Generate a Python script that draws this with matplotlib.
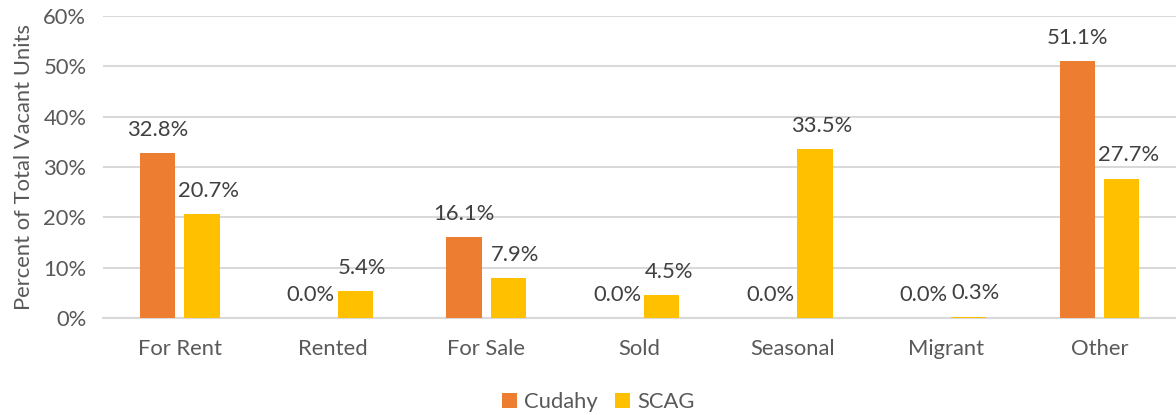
import matplotlib
matplotlib.use("Agg")
import matplotlib.pyplot as plt
import numpy as np

categories = ["For Rent", "Rented", "For Sale", "Sold", "Seasonal", "Migrant", "Other"]
cudahy = [32.8, 0.0, 16.1, 0.0, 0.0, 0.0, 51.1]
scag = [20.7, 5.4, 7.9, 4.5, 33.5, 0.3, 27.7]
yticks = [0, 10, 20, 30, 40, 50, 60]

plt.rcParams['font.family'] = ['Lato', 'DejaVu Sans']

fig = plt.figure(figsize=(11.76, 4.15), dpi=100)
ax = fig.add_axes([0.0876, 0.2337, 0.9124, 0.7277])

x = np.arange(len(categories))
w = 0.23
off = 0.145
c_or = "#ED7D31"
c_ye = "#FFC000"
ax.bar(x - off, cudahy, w, color=c_or, label="Cudahy", zorder=3)
ax.bar(x + off, scag, w, color=c_ye, label="SCAG", zorder=3)

lab_col = "#404040"
fs = 15.8
for xi, v in zip(x, cudahy):
    ax.annotate(f"{v:.1f}%", (xi - off, v), xytext=(0, 9.5), textcoords="offset points",
                ha="center", va="bottom", fontsize=fs, color=lab_col)
for xi, v in zip(x, scag):
    ax.annotate(f"{v:.1f}%", (xi + off, v), xytext=(5, 9.5), textcoords="offset points",
                ha="center", va="bottom", fontsize=fs, color=lab_col)

ax.set_xlim(-0.5, len(categories) - 0.5)
ax.set_ylim(0, 60)
ax.set_yticks(yticks)
ax.set_yticklabels([f"{t}%" for t in yticks])
ax.set_xticks(x)
ax.set_xticklabels(categories)
ax.tick_params(axis="both", length=0, labelsize=fs, colors="#595959")
ax.tick_params(axis="x", pad=15)
ax.tick_params(axis="y", pad=12)
ax.grid(axis="y", color="#D9D9D9", linewidth=1.5, zorder=0)
for s in ["top", "right", "left"]:
    ax.spines[s].set_visible(False)
ax.spines["bottom"].set_color("#D9D9D9")
ax.spines["bottom"].set_linewidth(1.5)
ax.set_ylabel("Percent of Total Vacant Units", fontsize=fs, color="#595959", labelpad=7)

ax.legend(loc="center", ncol=2, frameon=False, fontsize=fs, handlelength=0.7,
          handleheight=0.7, handletextpad=0.3, columnspacing=0.8, labelcolor="#595959",
          bbox_to_anchor=(598 / 1176, 1 - 402 / 415), bbox_transform=fig.transFigure)

fig.savefig("out.png", dpi=100)
